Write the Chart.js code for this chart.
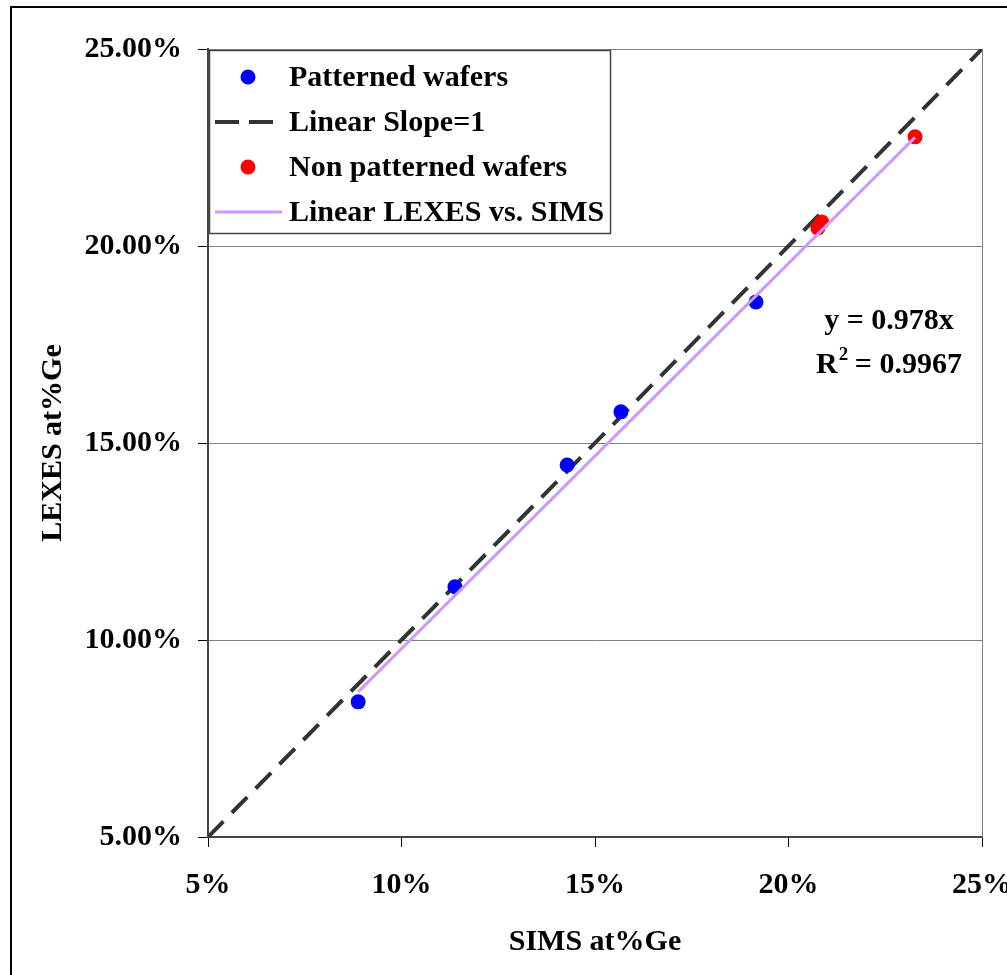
<!DOCTYPE html>
<html>
<head>
<meta charset="utf-8">
<title>LEXES vs. SIMS</title>
<script src="https://cdn.jsdelivr.net/npm/chart.js@4/dist/chart.umd.min.js"></script>
<style>
  html, body { margin: 0; padding: 0; background: #fff; overflow: hidden; }
  #frame { position: absolute; left: 10px; top: 6px; width: 1100px; height: 1100px;
           border-left: 2px solid #000; border-top: 2px solid #000; }
  #c { position: absolute; left: 0; top: 0; }
</style>
</head>
<body>
<div id="frame"></div>
<canvas id="c" width="1007" height="975"></canvas>
<script>
// Ge concentration (at%) measured by SIMS (x) and LEXES (y)
const patternedSims    = [8.88, 11.38, 14.28, 15.67, 19.16];
const patternedLexes   = [8.43, 11.35, 14.44, 15.79, 18.58];
const nonPatternedSims  = [20.76, 20.86, 23.27];
const nonPatternedLexes = [20.46, 20.61, 22.77];

// reference line of slope 1
const slopeOneX = [5, 25];
const slopeOneY = [5, 25];

// linear fit through the origin, as stated in the equation label
const trendSlope = 0.978;
const rSquared = 0.9967;

// axis ticks
const xTicks = [5, 10, 15, 20, 25];
const yTicks = [5, 10, 15, 20, 25];

const FONT = "'Liberation Serif', 'Times New Roman', serif";

const allSims = patternedSims.concat(nonPatternedSims);
const fitX = [Math.min(...allSims), Math.max(...allSims)];
const fitY = fitX.map(x => trendSlope * x);

const toPts = (xs, ys) => xs.map((x, i) => ({ x: x, y: ys[i] }));

const legendRows = [
  { label: 'Patterned wafers', kind: 'dot', color: '#0000FF' },
  { label: 'Linear Slope=1', kind: 'dash', color: '#333333' },
  { label: 'Non patterned wafers', kind: 'dot', color: '#FF0000' },
  { label: 'Linear LEXES vs. SIMS', kind: 'line', color: '#CC99FF' }
];

const overlayPlugin = {
  id: 'overlay',
  afterDraw(chart) {
    const ctx = chart.ctx;
    const ca = chart.chartArea;
    // legend box in the upper-left corner of the plot
    const lx = ca.left + 1, ly = ca.top + 1, lw = 401, lh = 183;
    ctx.save();
    ctx.fillStyle = '#fff';
    ctx.fillRect(lx, ly, lw, lh);
    ctx.strokeStyle = '#444';
    ctx.lineWidth = 1.5;
    ctx.strokeRect(lx + 0.5, ly + 0.5, lw, lh);
    ctx.font = 'bold 30px ' + FONT;
    ctx.textBaseline = 'middle';
    ctx.textAlign = 'left';
    legendRows.forEach((row, i) => {
      const cy = ly + 27 + i * 45;
      if (row.kind === 'dot') {
        ctx.fillStyle = row.color;
        ctx.beginPath();
        ctx.arc(lx + 39, cy, 7.5, 0, Math.PI * 2);
        ctx.fill();
      } else if (row.kind === 'dash') {
        ctx.strokeStyle = row.color;
        ctx.lineWidth = 4;
        ctx.setLineDash([24, 10]);
        ctx.beginPath();
        ctx.moveTo(lx + 6, cy);
        ctx.lineTo(lx + 64, cy);
        ctx.stroke();
        ctx.setLineDash([]);
      } else {
        ctx.strokeStyle = row.color;
        ctx.lineWidth = 3;
        ctx.beginPath();
        ctx.moveTo(lx + 6, cy);
        ctx.lineTo(lx + 73, cy);
        ctx.stroke();
      }
      ctx.fillStyle = '#000';
      ctx.fillText(row.label, lx + 80, cy + 1);
    });

    // fit equation and coefficient of determination
    const cx = 889;
    ctx.fillStyle = '#000';
    ctx.textAlign = 'center';
    ctx.textBaseline = 'alphabetic';
    ctx.font = 'bold 30px ' + FONT;
    ctx.fillText('y = ' + trendSlope.toFixed(3) + 'x', cx, 329);
    const bigA = 'R', bigB = ' = ' + rSquared.toFixed(4);
    const wA = ctx.measureText(bigA).width;
    const wB = ctx.measureText(bigB).width;
    ctx.font = 'bold 19px ' + FONT;
    const wS = ctx.measureText('2').width;
    let x0 = cx - (wA + wS + wB) / 2;
    const base = 373;
    ctx.textAlign = 'left';
    ctx.font = 'bold 30px ' + FONT;
    ctx.fillText(bigA, x0, base);
    ctx.font = 'bold 19px ' + FONT;
    ctx.fillText('2', x0 + wA + 1, base - 13);
    ctx.font = 'bold 30px ' + FONT;
    ctx.fillText(bigB, x0 + wA + wS, base);
    ctx.restore();
  }
};

new Chart(document.getElementById('c'), {
  type: 'scatter',
  data: {
    datasets: [
      {
        label: 'Patterned wafers',
        data: toPts(patternedSims, patternedLexes),
        backgroundColor: '#0000FF',
        borderColor: '#0000FF',
        pointRadius: 7.5,
        pointBorderWidth: 0,
        showLine: false,
        order: 1
      },
      {
        label: 'Linear Slope=1',
        data: toPts(slopeOneX, slopeOneY),
        borderColor: '#333333',
        borderWidth: 4,
        borderDash: [22, 12],
        pointRadius: 0,
        showLine: true,
        fill: false,
        order: 3
      },
      {
        label: 'Non patterned wafers',
        data: toPts(nonPatternedSims, nonPatternedLexes),
        backgroundColor: '#FF0000',
        borderColor: '#FF0000',
        pointRadius: 7.5,
        pointBorderWidth: 0,
        showLine: false,
        order: 1
      },
      {
        label: 'Linear LEXES vs. SIMS',
        data: toPts(fitX, fitY),
        borderColor: '#CC99FF',
        borderWidth: 3,
        pointRadius: 0,
        showLine: true,
        fill: false,
        order: 0
      }
    ]
  },
  options: {
    responsive: false,
    animation: false,
    devicePixelRatio: 1,
    layout: { padding: { left: 0, top: 49, right: 25, bottom: 0 } },
    plugins: {
      legend: { display: false },
      tooltip: { enabled: false }
    },
    scales: {
      x: {
        type: 'linear',
        min: 5, max: 25,
        afterBuildTicks: s => { s.ticks = xTicks.map(v => ({ value: v })); },
        afterFit: s => { s.height = 138; s.paddingLeft = 0; s.paddingRight = 0; },
        ticks: {
          autoSkip: false, maxRotation: 0, padding: 20, color: '#000',
          font: { family: FONT, size: 30, weight: 'bold' },
          callback: v => v + '%'
        },
        grid: {
          color: c => (c.index === xTicks.length - 1 ? '#808080' : 'rgba(0,0,0,0)'),
          lineWidth: 1,
          tickColor: '#000',
          tickLength: 10,
          tickWidth: 1
        },
        border: { display: true, color: '#444', width: 2 },
        title: {
          display: true, text: 'SIMS at%Ge', color: '#000',
          font: { family: FONT, size: 30, weight: 'bold' },
          padding: { top: 0, bottom: 15 }
        }
      },
      y: {
        type: 'linear',
        min: 5, max: 25,
        afterBuildTicks: s => { s.ticks = yTicks.map(v => ({ value: v })); },
        afterFit: s => { s.width = 208; s.paddingTop = 0; s.paddingBottom = 0; },
        ticks: {
          padding: 16, color: '#000',
          font: { family: FONT, size: 30, weight: 'bold' },
          callback: v => v.toFixed(2) + '%'
        },
        grid: {
          color: '#808080',
          lineWidth: 1,
          tickColor: '#000',
          tickLength: 10,
          tickWidth: 1
        },
        border: { display: true, color: '#444', width: 2 },
        title: {
          display: true, text: 'LEXES at%Ge', color: '#000',
          font: { family: FONT, size: 30, weight: 'bold' },
          padding: { top: 35, bottom: 0 }
        }
      }
    }
  },
  plugins: [overlayPlugin, {
    id: 'plotRightEdge',
    afterDraw(chart) {
      // gray frame on the right side of the plot area
      const ca = chart.chartArea, ctx = chart.ctx;
      ctx.save();
      ctx.strokeStyle = '#808080';
      ctx.lineWidth = 1;
      ctx.beginPath();
      ctx.moveTo(ca.right + 0.5, ca.top);
      ctx.lineTo(ca.right + 0.5, ca.bottom);
      ctx.stroke();
      ctx.restore();
    }
  }]
});
</script>
</body>
</html>
